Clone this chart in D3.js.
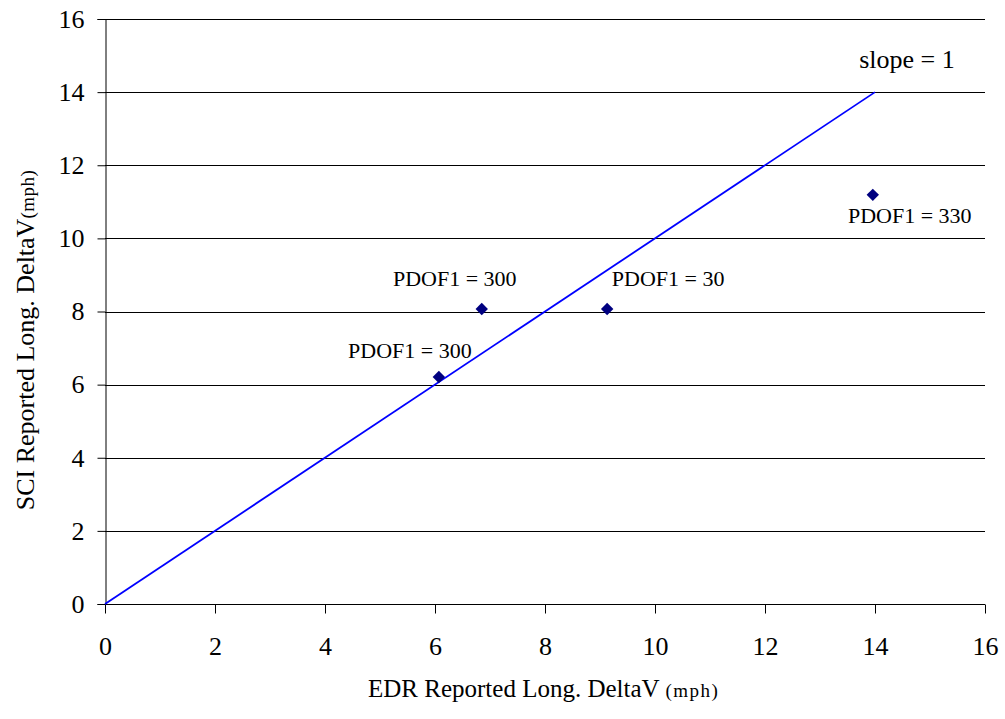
<!DOCTYPE html>
<html>
<head>
<meta charset="utf-8">
<script src="https://cdn.jsdelivr.net/npm/d3@7"></script>
<style>
  html, body { margin: 0; padding: 0; background: #fff; }
  svg { display: block; font-family: "Liberation Serif", "Times New Roman", serif; }
</style>
</head>
<body>
<svg id="chart" width="1005" height="719"></svg>
<script>
// Longitudinal delta-V: EDR vs SCI reported values
const edrValues = [6.07, 6.85, 9.13, 13.96];
const sciValues = [6.21, 8.07, 8.07, 11.19];
const pointLabels = ["PDOF1 = 300", "PDOF1 = 300", "PDOF1 = 30", "PDOF1 = 330"];
const refLine = [[0, 0], [14, 14]];
const tickValues = [0, 2, 4, 6, 8, 10, 12, 14, 16];

const svg = d3.select("#chart");
const plotLeft = 105, plotRight = 985, plotTop = 19, plotBottom = 604;

const x = d3.scaleLinear().domain([0, 16]).range([plotLeft, plotRight]);
const y = d3.scaleLinear().domain([0, 16]).range([plotBottom, plotTop]);

// horizontal gridlines
svg.append("g")
  .selectAll("line")
  .data(tickValues.filter(d => d > 0))
  .join("line")
  .attr("x1", plotLeft).attr("x2", plotRight)
  .attr("y1", d => Math.round(y(d)) + 0.5).attr("y2", d => Math.round(y(d)) + 0.5)
  .attr("stroke", "#000").attr("stroke-width", 1);

// axes
const yAxis = svg.append("g")
  .attr("transform", `translate(${plotLeft + 0.5},0)`)
  .call(d3.axisLeft(y).tickValues(tickValues).tickSize(8).tickPadding(13).tickFormat(d3.format("d")));
const xAxis = svg.append("g")
  .attr("transform", `translate(0,${plotBottom + 0.5})`)
  .call(d3.axisBottom(x).tickValues(tickValues).tickSize(9).tickPadding(23).tickFormat(d3.format("d")));

[yAxis, xAxis].forEach(a => {
  a.select(".domain").attr("stroke", "#000");
  a.selectAll(".tick line").attr("stroke", "#000");
  a.selectAll(".tick text")
    .attr("fill", "#000")
    .style("font-family", '"Liberation Serif", "Times New Roman", serif')
    .style("font-size", "26px");
});
xAxis.select(".domain").attr("d", `M${plotLeft},0H${plotRight}`);

// slope = 1 reference line
svg.append("path")
  .datum(refLine)
  .attr("d", d3.line().x(d => x(d[0])).y(d => y(d[1])))
  .attr("fill", "none")
  .attr("stroke", "#0000ff")
  .attr("stroke-width", 1.8);

svg.append("text")
  .attr("x", 907).attr("y", 68)
  .attr("text-anchor", "middle")
  .style("font-size", "26px")
  .text("slope = 1");

// data points
const pts = edrValues.map((v, i) => ({ x: v, y: sciValues[i], label: pointLabels[i] }));
svg.append("g")
  .selectAll("path")
  .data(pts)
  .join("path")
  .attr("transform", d => `translate(${x(d.x)},${y(d.y)})`)
  .attr("d", d3.symbol(d3.symbolDiamond2, 98))
  .attr("fill", "#000080");

// point labels, offsets in pixels relative to each point
const labelOffsets = [[-29, -19], [-27, -23], [61, -23], [37, 28]];
svg.append("g")
  .selectAll("text")
  .data(pts)
  .join("text")
  .attr("x", (d, i) => x(d.x) + labelOffsets[i][0])
  .attr("y", (d, i) => y(d.y) + labelOffsets[i][1])
  .attr("text-anchor", "middle")
  .style("font-size", "22px")
  .text(d => d.label);

// axis titles
const xt = svg.append("text")
  .attr("x", 368).attr("y", 697)
  .attr("text-anchor", "start")
  .style("font-size", "25px");
xt.append("tspan").text("EDR Reported Long. DeltaV ");
xt.append("tspan").style("font-size", "19px").style("letter-spacing", "1.5px").text("(mph)");

const yt = svg.append("text")
  .attr("transform", `translate(34,340) rotate(-90)`)
  .attr("text-anchor", "middle")
  .style("font-size", "26px");
yt.append("tspan").text("SCI Reported Long. DeltaV");
yt.append("tspan").style("font-size", "19px").style("letter-spacing", "0.5px").text("(mph)");
</script>
</body>
</html>
